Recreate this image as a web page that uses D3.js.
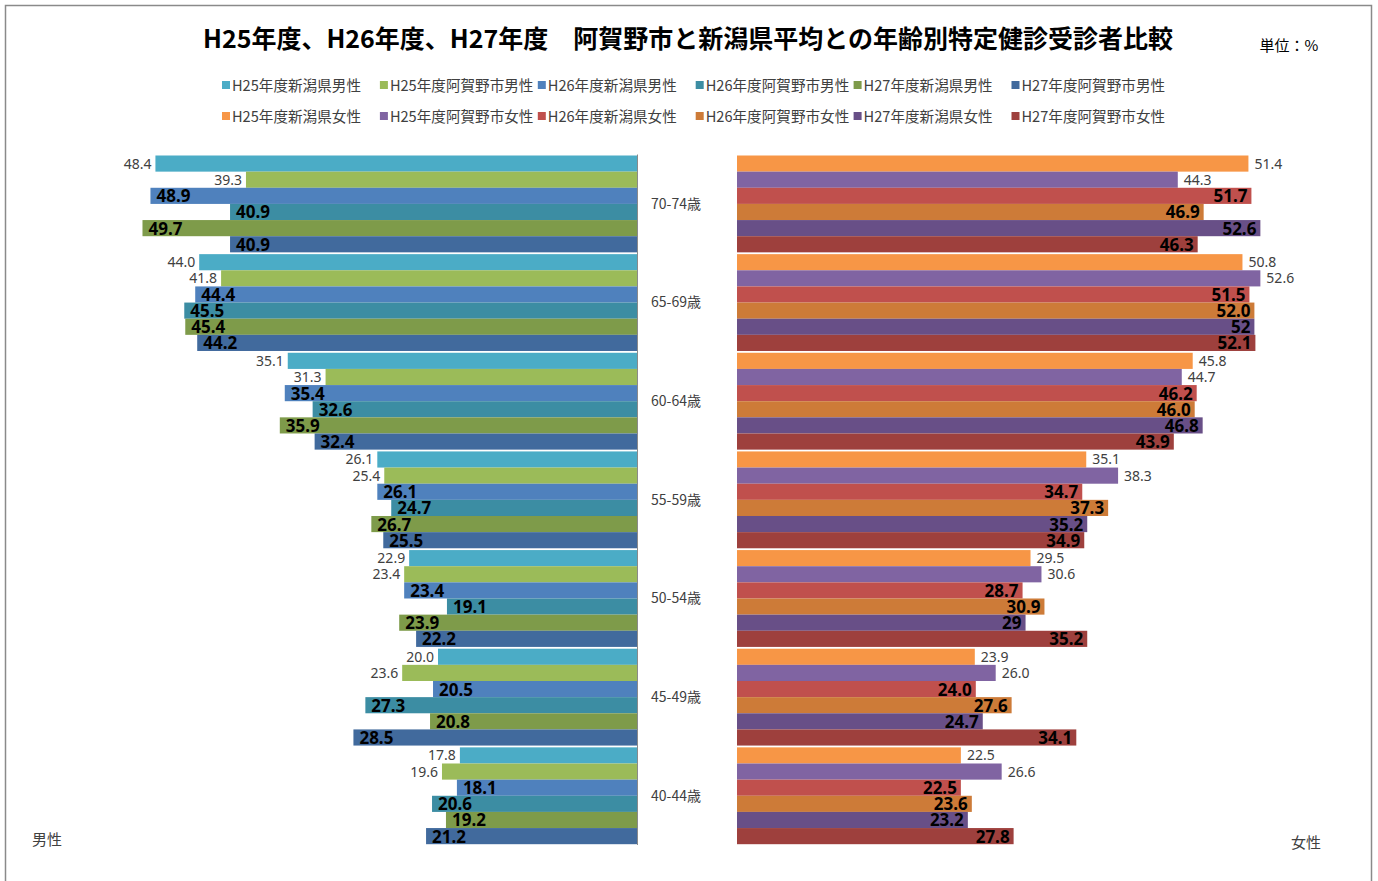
<!DOCTYPE html>
<html>
<head>
<meta charset="utf-8">
<script src="https://cdn.jsdelivr.net/npm/d3@7"></script>
<style>
  body { margin: 0; background: #fff; }
  svg { display: block; }
</style>
</head>
<body>
<svg id="chart" width="1378" height="881"></svg>
<script>
// Age groups, top to bottom
const ages = ["70-74歳", "65-69歳", "60-64歳", "55-59歳", "50-54歳", "45-49歳", "40-44歳"];

// Series names (legend order)
const maleNames = ["H25年度新潟県男性", "H25年度阿賀野市男性", "H26年度新潟県男性", "H26年度阿賀野市男性", "H27年度新潟県男性", "H27年度阿賀野市男性"];
const femaleNames = ["H25年度新潟県女性", "H25年度阿賀野市女性", "H26年度新潟県女性", "H26年度阿賀野市女性", "H27年度新潟県女性", "H27年度阿賀野市女性"];

// Examination rates (%), one value per age group, as printed
const h25NiigataMale   = ["48.4", "44.0", "35.1", "26.1", "22.9", "20.0", "17.8"];
const h25AganoMale     = ["39.3", "41.8", "31.3", "25.4", "23.4", "23.6", "19.6"];
const h26NiigataMale   = ["48.9", "44.4", "35.4", "26.1", "23.4", "20.5", "18.1"];
const h26AganoMale     = ["40.9", "45.5", "32.6", "24.7", "19.1", "27.3", "20.6"];
const h27NiigataMale   = ["49.7", "45.4", "35.9", "26.7", "23.9", "20.8", "19.2"];
const h27AganoMale     = ["40.9", "44.2", "32.4", "25.5", "22.2", "28.5", "21.2"];

const h25NiigataFemale = ["51.4", "50.8", "45.8", "35.1", "29.5", "23.9", "22.5"];
const h25AganoFemale   = ["44.3", "52.6", "44.7", "38.3", "30.6", "26.0", "26.6"];
const h26NiigataFemale = ["51.7", "51.5", "46.2", "34.7", "28.7", "24.0", "22.5"];
const h26AganoFemale   = ["46.9", "52.0", "46.0", "37.3", "30.9", "27.6", "23.6"];
const h27NiigataFemale = ["52.6", "52", "46.8", "35.2", "29", "24.7", "23.2"];
const h27AganoFemale   = ["46.3", "52.1", "43.9", "34.9", "35.2", "34.1", "27.8"];

const maleColors   = ["#4BACC6", "#9BBB59", "#4F81BD", "#3C8DA3", "#7E9B4A", "#416A9D"];
const femaleColors = ["#F79646", "#8064A2", "#C0504D", "#CD7B38", "#684F87", "#9E403D"];

const maleData   = [h25NiigataMale, h25AganoMale, h26NiigataMale, h26AganoMale, h27NiigataMale, h27AganoMale];
const femaleData = [h25NiigataFemale, h25AganoFemale, h26NiigataFemale, h26AganoFemale, h27NiigataFemale, h27AganoFemale];

const svg = d3.select("#chart");
const jpFont = "'Noto Sans CJK JP', 'Noto Sans', sans-serif";
const numFont = "'Noto Sans', 'DejaVu Sans', sans-serif";

// outer frame
svg.append("rect")
  .attr("x", 5.5).attr("y", 5.5).attr("width", 1366).attr("height", 900)
  .attr("fill", "none").attr("stroke", "#8a8a8a").attr("stroke-width", 1.5);

// title
svg.append("text")
  .attr("x", 688).attr("y", 48)
  .attr("text-anchor", "middle")
  .style("font-family", jpFont)
  .style("font-weight", "bold").style("font-size", "25px")
  .attr("fill", "#000")
  .text("H25年度、H26年度、H27年度\u3000阿賀野市と新潟県平均との年齢別特定健診受診者比較");

svg.append("text")
  .attr("x", 1289).attr("y", 51)
  .attr("text-anchor", "middle")
  .style("font-family", jpFont).style("font-size", "15px")
  .attr("fill", "#000")
  .text("単位：%");

// legend
const legendRows = [
  { names: maleNames, colors: maleColors, y: 86 },
  { names: femaleNames, colors: femaleColors, y: 117 }
];
legendRows.forEach(row => {
  const g = svg.append("g");
  row.names.forEach((name, i) => {
    const x = 223 + i * 157.9;
    g.append("rect")
      .attr("x", x - 1).attr("y", row.y - 5).attr("width", 8).attr("height", 8)
      .attr("fill", row.colors[i]);
    g.append("text")
      .attr("x", x + 9).attr("y", row.y + 5)
      .style("font-family", jpFont).style("font-size", "14.6px")
      .attr("fill", "#404040")
      .text(name);
  });
});

// scales
const plotTop = 154.5, plotBottom = 845;
const yGroup = d3.scaleBand().domain(ages).range([plotTop, plotBottom]).padding(0);
const ySeries = d3.scaleBand().domain(d3.range(6)).range([1, yGroup.bandwidth() - 0.8]).padding(0);

const xLeft = d3.scaleLinear().domain([0, 60]).range([637, 40]);
const xRight = d3.scaleLinear().domain([0, 60]).range([737, 1334]);

function drawSide(data, colors, side) {
  const x = side === "left" ? xLeft : xRight;
  const g = svg.append("g");
  data.forEach((series, si) => {
    series.forEach((label, ai) => {
      const v = +label;
      const y0 = yGroup(ages[ai]) + ySeries(si);
      const h = ySeries.bandwidth();
      const x0 = x(0), x1 = x(v);
      g.append("rect")
        .attr("x", Math.min(x0, x1)).attr("y", y0)
        .attr("width", Math.abs(x1 - x0)).attr("height", h)
        .attr("fill", colors[si]);
    });
  });
  // value labels: H25 outside the bar end, H26/H27 bold inside it
  data.forEach((series, si) => {
    const bold = si >= 2;
    series.forEach((label, ai) => {
      const v = +label;
      const y0 = yGroup(ages[ai]) + ySeries(si);
      const h = ySeries.bandwidth();
      const xe = x(v);
      let tx, anchor;
      if (side === "left") {
        if (bold) { tx = xe + 6; anchor = "start"; } else { tx = xe - 4; anchor = "end"; }
      } else {
        if (bold) { tx = xe - 4; anchor = "end"; } else { tx = xe + 6; anchor = "start"; }
      }
      g.append("text")
        .attr("x", tx)
        .attr("y", y0 + h / 2 + (bold ? 6.5 : 5))
        .attr("text-anchor", anchor)
        .style("font-family", numFont)
        .style("font-size", bold ? "17px" : "14px")
        .style("font-weight", bold ? "bold" : "normal")
        .attr("fill", bold ? "#000" : "#404040")
        .text(label);
    });
  });
}

drawSide(maleData, maleColors, "left");
drawSide(femaleData, femaleColors, "right");

// left value axis baseline
svg.append("line")
  .attr("x1", 637.5).attr("x2", 637.5)
  .attr("y1", plotTop).attr("y2", plotBottom)
  .attr("stroke", "#8a8a8a").attr("stroke-width", 1);

// age group labels
svg.append("g").selectAll("text").data(ages).join("text")
  .attr("x", 676)
  .attr("y", d => yGroup(d) + yGroup.bandwidth() / 2 + 5)
  .attr("text-anchor", "middle")
  .style("font-family", jpFont).style("font-size", "14px")
  .attr("fill", "#404040")
  .text(d => d);

// side labels
svg.append("text")
  .attr("x", 47).attr("y", 845).attr("text-anchor", "middle")
  .style("font-family", jpFont).style("font-size", "15px")
  .attr("fill", "#404040").text("男性");
svg.append("text")
  .attr("x", 1306).attr("y", 848).attr("text-anchor", "middle")
  .style("font-family", jpFont).style("font-size", "15px")
  .attr("fill", "#404040").text("女性");
</script>
</body>
</html>
